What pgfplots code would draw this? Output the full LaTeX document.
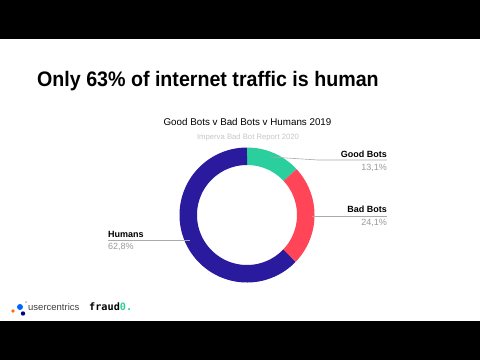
\documentclass[border=0pt]{standalone}
\usepackage{pgfplots}
\pgfplotsset{compat=1.18}
\usepgfplotslibrary{polar}
\usepackage{fontspec}
\setmainfont{Liberation Sans}
\newfontfamily\monofont{DejaVu Sans Mono}
\definecolor{cgood}{HTML}{2BCF9D}
\definecolor{cbad}{HTML}{FF4557}
\definecolor{chum}{HTML}{2A1A9E}
\definecolor{lbl}{HTML}{999999}
\definecolor{leader}{HTML}{AAAAAA}
% shares in percent
\def\good{13.1}
\def\bad{24.1}
\def\hum{62.8}
\pgfmathsetmacro{\aA}{90}
\pgfmathsetmacro{\aB}{\aA-3.6*\good}
\pgfmathsetmacro{\aC}{\aB-3.6*\bad}
\pgfmathsetmacro{\aD}{\aC-3.6*\hum}
\begin{document}
\begin{tikzpicture}[x=1pt,y=1pt]
\fill[white] (0,0) rectangle (480,360);
\fill[black] (0,321) rectangle (480,360);
\fill[black] (0,0) rectangle (480,39);
\begin{polaraxis}[at={(247pt,145pt)}, anchor=center, hide axis, scale only axis,
  width=135pt, height=135pt, ymin=0, ymax=67.5, clip=false]
\addplot[no markers, domain=\aA:\aB, samples=40, line width=17.5pt, cgood] {58.75};
\addplot[no markers, domain=\aB:\aC, samples=60, line width=17.5pt, cbad] {58.75};
\addplot[no markers, domain=\aC:\aD, samples=120, line width=17.5pt, chum] {58.75};
\end{polaraxis}
% leader lines
\draw[leader, line width=0.6pt] (271,203) -- (318,200) -- (387,200);
\draw[leader, line width=0.6pt] (312,144) -- (387,144);
\draw[leader, line width=0.6pt] (108,120) -- (190,120);
% labels
\node[anchor=base east, inner sep=0pt, font=\fontsize{9}{10}\selectfont\bfseries] at (387,202.7) {Good Bots};
\node[anchor=base east, inner sep=0pt, font=\fontsize{9}{10}\selectfont, text=lbl] at (387,189.5) {13,1\%};
\node[anchor=base east, inner sep=0pt, font=\fontsize{9}{10}\selectfont\bfseries] at (387,147.3) {Bad Bots};
\node[anchor=base east, inner sep=0pt, font=\fontsize{9}{10}\selectfont, text=lbl] at (387,134.3) {24,1\%};
\node[anchor=base west, inner sep=0pt, font=\fontsize{9}{10}\selectfont\bfseries] at (108,122.7) {Humans};
\node[anchor=base west, inner sep=0pt, font=\fontsize{9}{10}\selectfont, text=lbl] at (108,110.7) {62,8\%};
% titles
\node[anchor=base west, inner sep=0pt, font=\fontsize{21}{24}\selectfont\bfseries] at (37,273.3) {\scalebox{0.935}[1]{Only 63\% of internet traffic is human}};
\node[anchor=base, inner sep=0pt, font=\fontsize{9.8}{11}\selectfont] at (247.5,234.3) {Good Bots v Bad Bots v Humans 2019};
\node[anchor=base, inner sep=0pt, font=\fontsize{7.7}{9}\selectfont, text=black!22] at (248,221) {Imperva Bad Bot Report 2020};
% logos
\fill[orange!85!red] (13,49) circle (1.8);
\fill[blue!60!cyan] (20,53) circle (3);
\fill[blue!50!black] (23,46.5) circle (2.2);
\fill[black!30] (26,58) circle (1);
\node[anchor=base west, inner sep=0pt, font=\fontsize{9.5}{10}\selectfont, text=black!75] at (28,50) {usercentrics};
\node[anchor=base west, inner sep=0pt, font=\monofont\bfseries\fontsize{10.2}{11}\selectfont] at (89,50) {fraud\textcolor{cgood}{0.}};
\end{tikzpicture}
\end{document}
